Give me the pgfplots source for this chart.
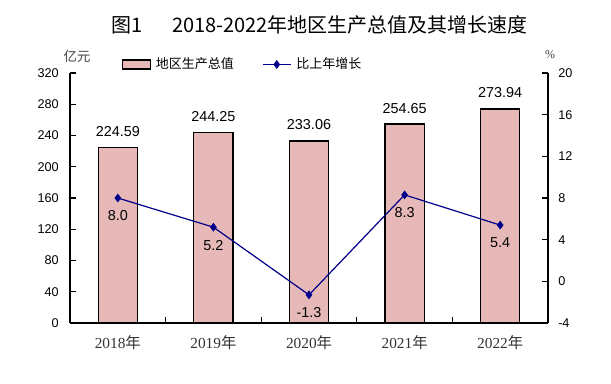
\documentclass[border=0pt]{standalone}
\usepackage{fontspec}
\setmainfont{Liberation Sans}
\newfontfamily\cjk{Noto Sans CJK SC}
\newfontfamily\lserif{Liberation Serif}
\usepackage{pgfplots}
\usepackage{pgfplotstable}
\pgfplotsset{compat=1.18}
\definecolor{barfill}{RGB}{230,185,184}
\definecolor{linecol}{RGB}{0,0,139}

\pgfplotstableread{
x y lab
0 224.59 224.59
1 244.25 244.25
2 233.06 233.06
3 254.65 254.65
4 273.94 273.94
}\gdp
\pgfplotstableread{
x y lab
0 8.0 8.0
1 5.2 5.2
2 -1.3 -1.3
3 8.3 8.3
4 5.4 5.4
}\growth

\begin{document}
\begin{tikzpicture}
\useasboundingbox (0,0) rectangle (458.25pt,287.25pt);
\node at (239.6pt,268.5pt) {\cjk\fontsize{15}{18}\selectfont 图1\hspace{22.5pt}2018-2022年地区生产总值及其增长速度};
\node[text=black!75] at (57.75pt,245.25pt) {\cjk\fontsize{10}{12}\selectfont 亿元};
\node[text=black!75] at (412.5pt,246pt) {\lserif\fontsize{9}{11}\selectfont \%};
\begin{axis}[
  at={(52.5pt,45pt)}, anchor=south west,
  width=358.5pt, height=187.5pt, scale only axis,
  clip=false,
  xmin=-0.5, xmax=4.5, ymin=0, ymax=320,
  axis x line*=bottom, axis y line*=left,
  axis line style={line width=1pt, black},
  ytick={0,40,...,320},
  xtick={0.5,1.5,2.5,3.5}, xticklabels={},
  extra x ticks={0,1,2,3,4},
  extra x tick labels={{\lserif 2018}{\cjk 年},{\lserif 2019}{\cjk 年},{\lserif 2020}{\cjk 年},{\lserif 2021}{\cjk 年},{\lserif 2022}{\cjk 年}},
  extra x tick style={tick style={draw=none}, tick label style={anchor=center, yshift=-14.5pt, font=\fontsize{11.5}{13}\selectfont, text=black!80}},
  tick align=inside, major tick length=4.5pt,
  tick style={black, line width=1pt},
  /pgf/number format/assume math mode=true,
  yticklabel style={font=\fontsize{9.5}{11}\selectfont, inner sep=0pt, xshift=-8.25pt},
  legend style={at={(0.108,1.034)}, anchor=west, draw=none, fill=none, inner sep=0pt, outer sep=0pt,
    font=\fontsize{9.75}{11}\selectfont, nodes={inner sep=0pt}, /tikz/every odd column/.append style={column sep=3.75pt}},
  legend cell align=left,
]
\addplot[ybar, bar width=0.41, fill=barfill, draw=black, line width=1pt,
  nodes near coords, point meta=explicit symbolic,
  nodes near coords style={anchor=center, yshift=12pt, font=\fontsize{10.8}{12}\selectfont},
  legend image code/.code={\draw[fill=barfill,draw=black,line width=0.9pt] (0pt,-3.375pt) rectangle (21pt,3.375pt);}
] table[x=x,y=y,meta=lab]{\gdp};
\addlegendentry{\cjk 地区生产总值}
\end{axis}
\begin{axis}[
  at={(52.5pt,45pt)}, anchor=south west,
  width=358.5pt, height=187.5pt, scale only axis,
  clip=false,
  xmin=-0.5, xmax=4.5, ymin=-4, ymax=20,
  hide x axis, axis y line*=right,
  axis line style={line width=1pt, black},
  ytick={-4,0,...,20},
  tick align=inside, major tick length=4.5pt,
  tick style={black, line width=1pt},
  /pgf/number format/assume math mode=true,
  yticklabel style={font=\fontsize{9.5}{11}\selectfont, inner sep=0pt, xshift=7.5pt},
  legend style={at={(0.402,1.034)}, anchor=west, draw=none, fill=none, inner sep=0pt, outer sep=0pt,
    font=\fontsize{9.75}{11}\selectfont, nodes={inner sep=0pt}, /tikz/every odd column/.append style={column sep=3.75pt}},
  legend cell align=left,
]
\addplot[linecol, line width=0.9pt, mark=diamond*, mark size=2.6pt, mark options={fill=linecol, solid},
  nodes near coords, point meta=explicit symbolic,
  nodes near coords style={anchor=center, yshift=-13.5pt, text=black, font=\fontsize{10.8}{12}\selectfont},
  legend image code/.code={\draw[linecol, line width=0.9pt, mark=diamond*, mark size=2.6pt, mark options={fill=linecol}, mark repeat=2, mark phase=2] plot coordinates {(0pt,0pt) (10.5pt,0pt) (21pt,0pt)};}
] table[x=x,y=y,meta=lab]{\growth};
\addlegendentry{\cjk 比上年增长}
\end{axis}
\end{tikzpicture}
\end{document}
